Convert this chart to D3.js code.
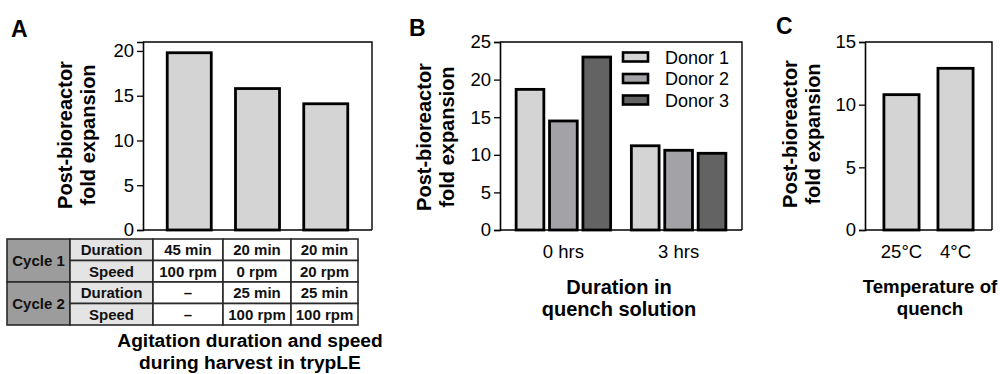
<!DOCTYPE html>
<html>
<head>
<meta charset="utf-8">
<script src="https://cdn.jsdelivr.net/npm/d3@7"></script>
<style>
  body { margin: 0; background: #fff; }
  svg { display: block; }
  text { font-family: "Liberation Sans", Arial, sans-serif; fill: #000; }
  .tick text { font-size: 18.5px; }
  .title { font-weight: bold; }
  .panel { font-size: 23px; font-weight: bold; }
  .tbl text { font-size: 15px; font-weight: bold; fill: #111; }
</style>
</head>
<body>
<div id="chart"></div>
<script>
// panel A
const harvestConditions = ["c1", "c2", "c3"];
const harvestValues = [19.8, 15.8, 14.1];
const tableRowLabels = ["Duration", "Speed", "Duration", "Speed"];
const tableCycleLabels = ["Cycle 1", "Cycle 2"];
const tableCells = [
  ["45 min", "20 min", "20 min"],
  ["100 rpm", "0 rpm", "20 rpm"],
  ["–", "25 min", "25 min"],
  ["–", "100 rpm", "100 rpm"]
];
const ticksA = [0, 5, 10, 15, 20];

// panel B
const quenchDurations = ["0 hrs", "3 hrs"];
const donors = ["Donor 1", "Donor 2", "Donor 3"];
const donor1 = [18.7, 11.2];
const donor2 = [14.5, 10.6];
const donor3 = [23.0, 10.2];
const ticksB = [0, 5, 10, 15, 20, 25];

// panel C
const quenchTemps = ["25°C", "4°C"];
const tempValues = [10.8, 12.9];
const ticksC = [0, 5, 10, 15];

const donorColors = ["#d4d4d4", "#a3a3a7", "#636363"];
const barFill = "#d4d4d4";

const svg = d3.select("#chart").append("svg")
  .attr("width", 1000)
  .attr("height", 374);

const baseY = 230, topY = 42;

function frame(x0, x1) {
  svg.append("path")
    .attr("d", `M${x0},${topY}H${x1}V${baseY}`)
    .attr("fill", "none")
    .attr("stroke", "#000")
    .attr("stroke-width", 1.4);
  svg.append("line")
    .attr("x1", x0).attr("x2", x1)
    .attr("y1", baseY).attr("y2", baseY)
    .attr("stroke", "#000").attr("stroke-width", 1.6);
}

function yAxis(x0, y, ticks) {
  const g = svg.append("g")
    .attr("transform", `translate(${x0},0)`)
    .call(d3.axisLeft(y).tickValues(ticks).tickSize(6).tickPadding(3).tickFormat(d3.format("d")));
  g.select(".domain").attr("stroke-width", 1.6);
  g.selectAll(".tick line").attr("stroke-width", 1.3);
  g.selectAll(".tick text").attr("font-family", null).attr("font-size", null);
}

function xAxis(x) {
  svg.append("g")
    .attr("transform", `translate(0,${baseY})`)
    .call(d3.axisBottom(x).tickSize(0).tickPadding(14.5))
    .call(g => g.select(".domain").remove())
    .selectAll("text").attr("font-family", null).attr("font-size", null);
}

function yTitle(cx, cy) {
  const t = svg.append("text")
    .attr("class", "title")
    .attr("font-size", 20)
    .attr("text-anchor", "middle")
    .attr("transform", `translate(${cx},${cy}) rotate(-90)`);
  t.append("tspan").attr("x", 0).attr("dy", 0).text("Post-bioreactor");
  t.append("tspan").attr("x", 0).attr("dy", 23).text("fold expansion");
}

function xTitle(cx, y, size, gap, lines) {
  const t = svg.append("text")
    .attr("class", "title")
    .attr("font-size", size)
    .attr("text-anchor", "middle");
  lines.forEach((l, i) => {
    t.append("tspan").attr("x", cx).attr("y", y + i * gap).text(l);
  });
}

function panelLetter(x, y, s) {
  svg.append("text").attr("class", "panel").attr("x", x).attr("y", y).text(s);
}

// ---------- A ----------
const xA = d3.scaleBand().domain(harvestConditions).range([143, 372]).padding(0.355);
const yA = d3.scaleLinear().domain([0, 21]).range([baseY, topY]);

frame(143, 372);
svg.append("g").selectAll("rect")
  .data(harvestValues)
  .join("rect")
  .attr("x", (d, i) => xA(harvestConditions[i]))
  .attr("y", d => yA(d))
  .attr("width", xA.bandwidth())
  .attr("height", d => baseY - yA(d))
  .attr("fill", barFill)
  .attr("stroke", "#000")
  .attr("stroke-width", 2.8);
yAxis(143, yA, ticksA);
yTitle(72, 135);
panelLetter(11, 37, "A");

// table under A, value columns line up with the bars
const tblTop = 239, rowH = 21.5;
const colEdges = [7, 70, 153, 223, 291, 358];
const tbl = svg.append("g").attr("class", "tbl");

function cell(x0, x1, y0, h, fill, label) {
  tbl.append("rect")
    .attr("x", x0).attr("y", y0)
    .attr("width", x1 - x0).attr("height", h)
    .attr("fill", fill).attr("stroke", "#2a2a2a").attr("stroke-width", 1.6);
  tbl.append("text")
    .attr("x", (x0 + x1) / 2)
    .attr("y", y0 + h / 2 + 5.5)
    .attr("text-anchor", "middle")
    .text(label);
}

tableCycleLabels.forEach((c, i) => {
  cell(colEdges[0], colEdges[1], tblTop + i * 2 * rowH, 2 * rowH, "#9c9c9c", c);
});
tableRowLabels.forEach((r, i) => {
  const y0 = tblTop + i * rowH;
  cell(colEdges[1], colEdges[2], y0, rowH, "#e4e4e4", r);
  tableCells[i].forEach((v, j) => {
    cell(colEdges[j + 2], colEdges[j + 3], y0, rowH, "#fff", v);
  });
});
xTitle(250, 347, 19.2, 21.5, ["Agitation duration and speed", "during harvest in trypLE"]);

// ---------- B ----------
const xB = d3.scaleBand().domain(quenchDurations).range([500, 742]).paddingInner(0.18).paddingOuter(0.14);
const xB1 = d3.scaleBand().domain(donors).range([0, xB.bandwidth()]).paddingInner(0.17);
const yB = d3.scaleLinear().domain([0, 25]).range([baseY, topY]);
const donorSeries = [donor1, donor2, donor3];

frame(500, 742);
const groups = svg.append("g").selectAll("g")
  .data(quenchDurations)
  .join("g")
  .attr("transform", d => `translate(${xB(d)},0)`);
groups.selectAll("rect")
  .data((d, i) => donors.map((dn, k) => ({ donor: dn, k: k, v: donorSeries[k][i] })))
  .join("rect")
  .attr("x", d => xB1(d.donor))
  .attr("y", d => yB(d.v))
  .attr("width", xB1.bandwidth())
  .attr("height", d => baseY - yB(d.v))
  .attr("fill", d => donorColors[d.k])
  .attr("stroke", "#000")
  .attr("stroke-width", 2.8);
yAxis(500, yB, ticksB);
xAxis(xB);

const legend = svg.append("g").selectAll("g")
  .data(donors)
  .join("g")
  .attr("transform", (d, i) => `translate(623,${57 + i * 21.5})`);
legend.append("rect")
  .attr("x", 0).attr("y", -4.5)
  .attr("width", 25).attr("height", 9)
  .attr("fill", (d, i) => donorColors[i])
  .attr("stroke", "#000").attr("stroke-width", 2.6);
legend.append("text")
  .attr("x", 42).attr("y", 6.5)
  .attr("font-size", 18)
  .text(d => d);

yTitle(431, 137);
xTitle(619, 294, 20, 22, ["Duration in", "quench solution"]);
panelLetter(409, 36, "B");

// ---------- C ----------
const xC = d3.scaleBand().domain(quenchTemps).range([865, 992]).padding(0.35);
const yC = d3.scaleLinear().domain([0, 15]).range([baseY, topY]);

frame(865, 992);
svg.append("g").selectAll("rect")
  .data(tempValues)
  .join("rect")
  .attr("x", (d, i) => xC(quenchTemps[i]))
  .attr("y", d => yC(d))
  .attr("width", xC.bandwidth())
  .attr("height", d => baseY - yC(d))
  .attr("fill", barFill)
  .attr("stroke", "#000")
  .attr("stroke-width", 2.8);
yAxis(865, yC, ticksC);
xAxis(xC);

yTitle(797, 134);
xTitle(930, 293, 18.7, 22, ["Temperature of", "quench"]);
panelLetter(776, 34, "C");
</script>
</body>
</html>
